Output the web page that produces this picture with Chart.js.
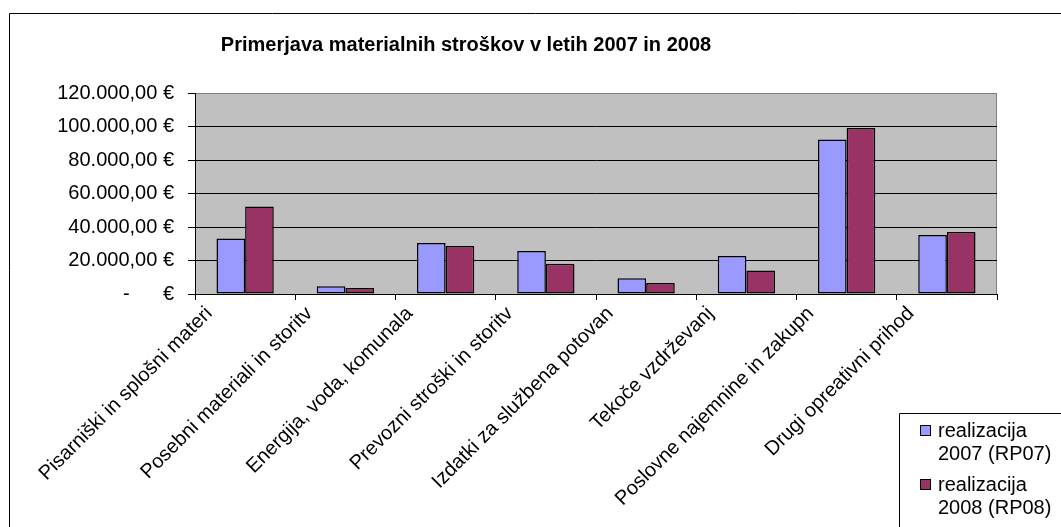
<!DOCTYPE html>
<html>
<head>
<meta charset="utf-8">
<script src="https://cdn.jsdelivr.net/npm/chart.js@4/dist/chart.umd.min.js"></script>
<style>
  html, body { margin: 0; padding: 0; background: #fff; }
  #wrap { width: 1061px; height: 527px; position: relative; }
</style>
</head>
<body>
<div id="wrap"><canvas id="chart"></canvas></div>
<script>
// podatki
const title = 'Primerjava materialnih stroškov v letih 2007 in 2008';
const categories = [
    'Pisarniški in splošni materi',
    'Posebni materiali in storitv',
    'Energija, voda, komunala',
    'Prevozni stroški in storitv',
    'Izdatki za službena potovan',
    'Tekoče vzdrževanj',
    'Poslovne najemnine in zakupn',
    'Drugi opreativni prihod'
];
const realizacija2007 = [33200, 4600, 30400, 25700, 9400, 22700, 92300, 35200];
const realizacija2008 = [52300, 3600, 28700, 18100, 6600, 14100, 99100, 37000];
const seriesNames = [['realizacija', '2007 (RP07)'], ['realizacija', '2008 (RP08)']];
const yTicks = [0, 20000, 40000, 60000, 80000, 100000, 120000];

const FONT = "'Liberation Sans', Arial, sans-serif";

function formatEuro(v) {
    if (v === 0) return '-      €';
    const int = Math.floor(v).toString().replace(/\B(?=(\d{3})+(?!\d))/g, '.');
    return int + ',00 €';
}

// ozadje, okvir, naslov in legenda
const excelLook = {
    id: 'excelLook',
    beforeDraw(chart) {
        const { ctx, chartArea: a } = chart;
        ctx.save();
        ctx.fillStyle = '#fff';
        ctx.fillRect(0, 0, chart.width, chart.height);
        ctx.fillStyle = '#c0c0c0';
        ctx.fillRect(a.left, a.top, a.right - a.left, a.bottom - a.top);
        ctx.strokeStyle = '#808080';
        ctx.lineWidth = 1;
        ctx.strokeRect(a.left + 0.5, a.top + 0.5, a.right - a.left - 1, a.bottom - a.top);
        // zunanji okvir
        ctx.strokeStyle = '#000';
        ctx.beginPath();
        ctx.moveTo(9.5, chart.height);
        ctx.lineTo(9.5, 13.5);
        ctx.lineTo(chart.width, 13.5);
        ctx.stroke();
        // naslov
        ctx.fillStyle = '#000';
        ctx.font = 'bold 20px ' + FONT;
        ctx.textAlign = 'center';
        ctx.textBaseline = 'middle';
        ctx.fillText(title, 466, 45);
        ctx.restore();
    },
    afterDraw(chart) {
        const { ctx } = chart;
        ctx.save();
        ctx.fillStyle = '#fff';
        ctx.fillRect(899, 413, chart.width - 899, chart.height - 413);
        ctx.strokeStyle = '#000';
        ctx.lineWidth = 1;
        ctx.beginPath();
        ctx.moveTo(899.5, chart.height);
        ctx.lineTo(899.5, 413.5);
        ctx.lineTo(chart.width, 413.5);
        ctx.stroke();
        ctx.font = '20px ' + FONT;
        ctx.textBaseline = 'alphabetic';
        chart.data.datasets.forEach((ds, i) => {
            const y = 424 + i * 54;
            ctx.fillStyle = ds.backgroundColor;
            ctx.fillRect(920, y + 1, 10, 10);
            ctx.strokeStyle = '#000';
            ctx.strokeRect(920.5, y + 1.5, 10, 10);
            ctx.fillStyle = '#000';
            seriesNames[i].forEach((line, j) => {
                ctx.fillText(line, 938, y + 13 + j * 23);
            });
        });
        ctx.restore();
    }
};

new Chart(document.getElementById('chart'), {
    type: 'bar',
    data: {
        labels: categories,
        datasets: [{
            label: seriesNames[0].join(' '),
            data: realizacija2007,
            backgroundColor: '#9999ff',
            borderColor: '#000',
            borderWidth: 1.5,
            borderSkipped: false
        }, {
            label: seriesNames[1].join(' '),
            data: realizacija2008,
            backgroundColor: '#993366',
            borderColor: '#000',
            borderWidth: 1.5,
            borderSkipped: false
        }]
    },
    options: {
        responsive: true,
        maintainAspectRatio: false,
        animation: false,
        categoryPercentage: 2 / 3.5,
        barPercentage: 1,
        layout: { padding: { top: 93, right: 64, left: 0, bottom: 0 } },
        plugins: {
            legend: { display: false },
            tooltip: { enabled: false },
            title: { display: false }
        },
        scales: {
            x: {
                afterFit(scale) { scale.height = 233; },
                grid: {
                    offset: true,
                    drawOnChartArea: false,
                    drawTicks: true,
                    tickLength: 6,
                    tickColor: '#000'
                },
                border: { color: '#000', width: 1 },
                ticks: {
                    autoSkip: false,
                    maxRotation: 45,
                    minRotation: 45,
                    padding: 2,
                    labelOffset: -36,
                    color: '#000',
                    font: { family: FONT, size: 20 }
                }
            },
            y: {
                min: 0,
                max: 120000,
                afterFit(scale) { scale.width = 195; },
                afterBuildTicks(scale) { scale.ticks = yTicks.map(v => ({ value: v })); },
                grid: {
                    color: ctx => (ctx.tick && ctx.tick.value === 120000) ? '#808080' : '#000',
                    tickColor: '#000',
                    tickLength: 7,
                    lineWidth: 1
                },
                border: { color: '#000', width: 1 },
                ticks: {
                    padding: 14,
                    color: '#000',
                    font: { family: FONT, size: 20 },
                    callback: v => formatEuro(v)
                }
            }
        }
    },
    plugins: [excelLook]
});
</script>
</body>
</html>
